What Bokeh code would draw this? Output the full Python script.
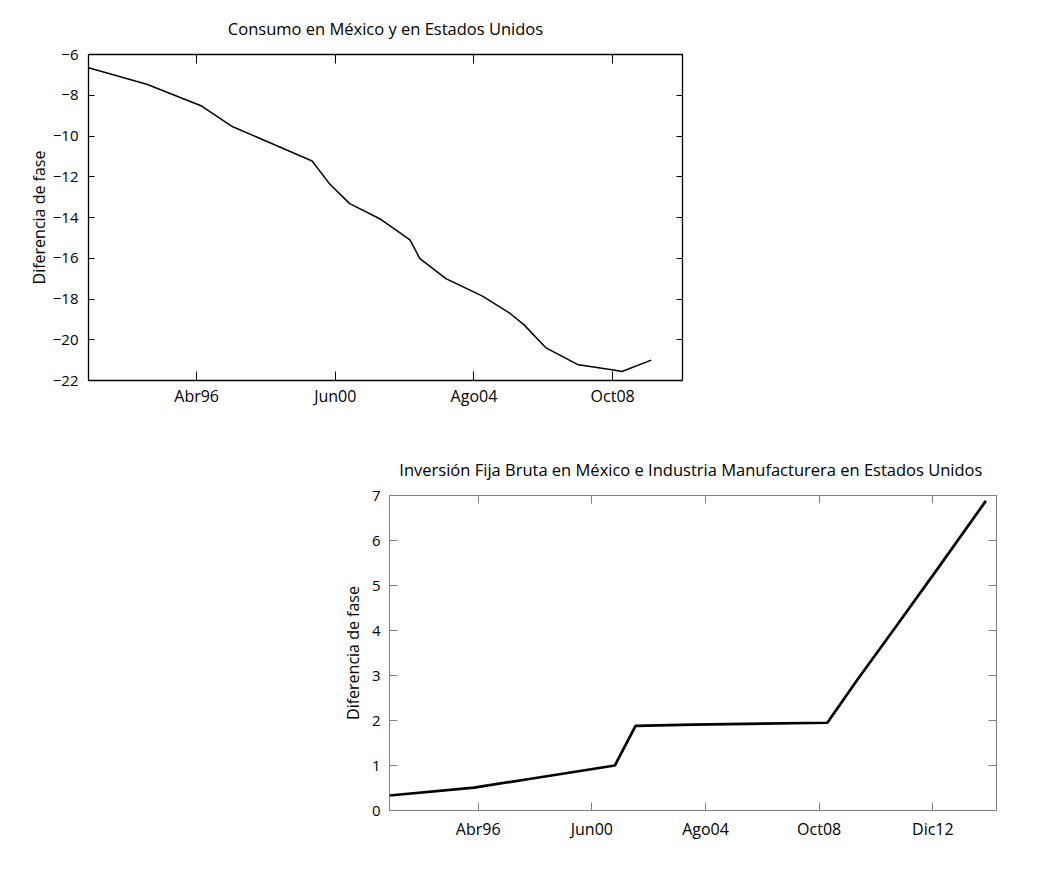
from bokeh.plotting import figure
from bokeh.layouts import column, row
from bokeh.models import (Spacer, FixedTicker, SingleIntervalTicker, LinearAxis,
                          CustomJSTickFormatter, Range1d)
from bokeh.embed import file_html
from bokeh.resources import INLINE

# ---- data: Consumo en México y en Estados Unidos ----
cons_x = [1993.0, 1994.75, 1996.4, 1997.3, 1999.72, 2000.25, 2000.85, 2001.75,
          2002.66, 2002.96, 2003.74, 2004.84, 2005.67, 2006.09, 2006.75, 2007.72,
          2008.73, 2009.03, 2009.91]
cons_y = [-6.65, -7.46, -8.53, -9.52, -11.23, -12.36, -13.32, -14.06,
          -15.1, -16.02, -17.0, -17.86, -18.71, -19.27, -20.4, -21.23,
          -21.47, -21.56, -21.0]

# ---- data: Inversión Fija Bruta / Industria Manufacturera ----
inv_x = [1993.0, 1996.1, 1998.12, 2001.26, 2002.02, 2004.13, 2009.05,
         2010.13, 2011.64, 2013.1, 2014.86]
inv_y = [0.334, 0.51, 0.70, 1.0, 1.88, 1.91, 1.95,
         2.89, 4.15, 5.38, 6.88]

# ---- tick labels (month-year dates as fractional years) ----
tick_pos_1 = [1996.25, 2000 + 5 / 12, 2004 + 7 / 12, 2008.75]
tick_lab_1 = ["Abr96", "Jun00", "Ago04", "Oct08"]
tick_pos_2 = [1996.25, 2000 + 5 / 12, 2004 + 7 / 12, 2008.75, 2012 + 11 / 12]
tick_lab_2 = ["Abr96", "Jun00", "Ago04", "Oct08", "Dic12"]

title_1 = "Consumo en México y en Estados Unidos"
title_2 = "Inversión Fija Bruta en México e Industria Manufacturera en  Estados Unidos"
ylabel = "Diferencia de fase"

FONT = "Open Sans"

minus_fmt = CustomJSTickFormatter(code="""
    return tick < 0 ? '\\u2212' + Math.abs(tick) : tick.toString();
""")


def style_plot(p, color, tick_len_x, tick_len_y, tick_pos, tick_lab, yint,
               lab_standoff_y, lab_standoff_x, axis_label_standoff, outline_w,
               title_standoff):
    p.title.text_font = FONT
    p.title.text_font_style = "normal"
    p.title.text_font_size = "16.5px"
    p.title.align = "center"
    p.title.text_color = "black"
    p.title.standoff = title_standoff
    p.xgrid.visible = False
    p.ygrid.visible = False
    p.outline_line_color = color
    p.outline_line_width = outline_w
    p.outline_line_alpha = 1.0
    p.background_fill_color = "white"
    p.border_fill_color = "white"

    xa = p.xaxis[0]
    xa.ticker = FixedTicker(ticks=tick_pos)
    xa.major_label_overrides = dict(zip(tick_pos, tick_lab))
    xa.major_label_standoff = lab_standoff_x
    xa.major_label_text_font_size = "16px"
    ya = p.yaxis[0]
    ya.ticker = SingleIntervalTicker(interval=yint)
    ya.formatter = minus_fmt
    ya.axis_label = ylabel
    ya.axis_label_text_font = FONT
    ya.axis_label_text_font_style = "normal"
    ya.axis_label_text_font_size = "16px"
    ya.axis_label_text_color = "black"
    ya.axis_label_standoff = axis_label_standoff
    ya.major_label_standoff = lab_standoff_y
    ya.major_label_text_font_size = "15px"

    for ax, tl in ((xa, tick_len_x), (ya, tick_len_y)):
        ax.axis_line_color = None
        ax.major_tick_in = tl
        ax.major_tick_out = 0
        ax.major_tick_line_color = color
        ax.minor_tick_line_color = None
        ax.major_label_text_font = FONT
        ax.major_label_text_color = "black"

    # mirrored ticks on top and right (no labels)
    top = LinearAxis(ticker=FixedTicker(ticks=tick_pos))
    right = LinearAxis(ticker=SingleIntervalTicker(interval=yint))
    for ax, tl in ((top, tick_len_x), (right, tick_len_y)):
        ax.axis_line_color = None
        ax.major_tick_in = tl
        ax.major_tick_out = 0
        ax.major_tick_line_color = color
        ax.minor_tick_line_color = None
        ax.major_label_text_font_size = "0px"
        ax.major_label_text_color = None
        ax.major_label_standoff = 0
    p.add_layout(top, "above")
    p.add_layout(right, "right")


# ---- top figure ----
p1 = figure(width=702, height=438, output_backend="svg", toolbar_location=None,
            x_range=Range1d(1993.0, 2010.85), y_range=Range1d(-22, -6),
            title=title_1, min_border_left=88, min_border_right=20,
            min_border_top=54, min_border_bottom=58)
p1.line(cons_x, cons_y, line_color="black", line_width=1.5)
style_plot(p1, "black", 9, 6, tick_pos_1, tick_lab_1, 2, 6, 4, 0, 1.3, 29)

# ---- bottom figure ----
p2 = figure(width=699, height=422, output_backend="svg", toolbar_location=None,
            x_range=Range1d(1993.0, 2015.25), y_range=Range1d(0, 7),
            title=title_2, min_border_left=72, min_border_right=20,
            min_border_top=57, min_border_bottom=50)
p2.line(inv_x, inv_y, line_color="black", line_width=2.7)
style_plot(p2, "#808080", 8, 8, tick_pos_2, tick_lab_2, 1, 5, 7, 5, 1.0, 30)

layout = column(p1, row(Spacer(width=317, height=422), p2))

open("out.html", "w").write(file_html(layout, INLINE))
